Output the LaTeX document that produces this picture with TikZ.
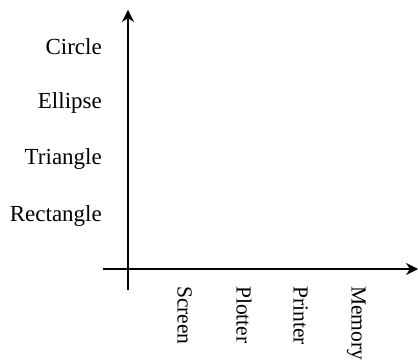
\documentclass[tikz,border=0pt]{standalone}
\usepackage{fontspec}
\setmainfont{Liberation Serif}
\usetikzlibrary{arrows.meta}
\begin{document}
\begin{tikzpicture}[x=1pt,y=-1pt,
  axis/.style={line width=1.1pt,-{Stealth[length=12pt,width=12pt,inset=4pt]}},
  ylab/.style={anchor=base east,font=\fontsize{23}{25}\selectfont,inner sep=0pt},
  xlab/.style={anchor=base west,rotate=-90,font=\fontsize{21.5}{24}\selectfont,inner sep=0pt}]
\useasboundingbox (0,0) rectangle (418,363);
\coordinate (vb) at (128,290);
\coordinate (vt) at (128,10);
\coordinate (hl) at (103,269);
\coordinate (hr) at (418,269);
\draw[axis] (vb) -- (vt);
\draw[axis] (hl) -- (hr);
\node[ylab] (circle) at (102,54.5) {Circle};
\node[ylab] (ellipse) at (102,109) {Ellipse};
\node[ylab] (triangle) at (102,165) {Triangle};
\node[ylab] (rectangle) at (102,222) {Rectangle};
\node[xlab] (screen) at (177.5,286) {Screen};
\node[xlab] (plotter) at (236.7,286) {Plotter};
\node[xlab] (printer) at (293.5,286) {Printer};
\node[xlab] (memory) at (351.7,286) {Memory};
\end{tikzpicture}
\end{document}
